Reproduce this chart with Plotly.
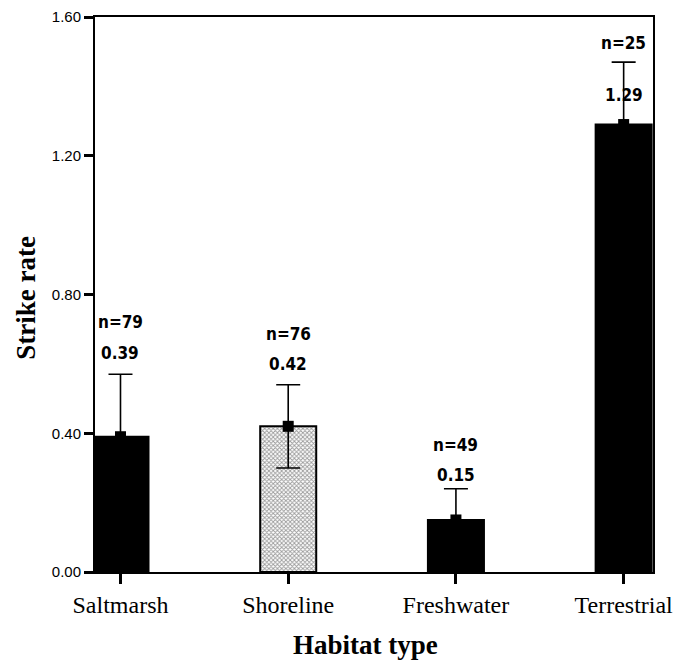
import plotly.graph_objects as go

# ---- data ----
categories = ["Saltmarsh", "Shoreline", "Freshwater", "Terrestrial"]
strike_rate = [0.39, 0.42, 0.15, 1.29]
error = [0.18, 0.12, 0.09, 0.18]
n_obs = [79, 76, 49, 25]
y_ticks = [0.0, 0.4, 0.8, 1.2, 1.6]

# ---- styling (pixel offsets for labels) ----
n_shift = [52, 51, 44, 19]
val_shift = [21, 21, 14, -33]
bar_colors = ["black", "#9a9a9a", "black", "black"]

xpos = list(range(len(categories)))

fig = go.Figure()
fig.add_trace(go.Bar(
    x=xpos, y=strike_rate, width=0.334,
    marker=dict(
        color=bar_colors,
        line=dict(color="black", width=2),
        pattern=dict(shape=["", "x", "", ""], fgcolor="#000000", bgcolor="#b8b8b8",
                     size=3, solidity=0.5, fillmode="replace"),
    ),
    showlegend=False,
))
fig.add_trace(go.Scatter(
    x=xpos, y=strike_rate, mode="markers",
    marker=dict(symbol="square", size=11, color="black"),
    error_y=dict(type="data", array=error, visible=True, color="black",
                 thickness=1.6, width=12),
    showlegend=False, cliponaxis=False,
))

ann_font = dict(family="DejaVu Sans Condensed, DejaVu Sans", size=17, color="black")
for i, (v, e, n) in enumerate(zip(strike_rate, error, n_obs)):
    fig.add_annotation(x=i, y=v + e, text=f"<b>n={n}</b>", showarrow=False,
                       yanchor="middle", yshift=n_shift[i], font=ann_font)
    fig.add_annotation(x=i, y=v + e, text=f"<b>{v:.2f}</b>", showarrow=False,
                       yanchor="middle", yshift=val_shift[i], font=ann_font)

title_font = dict(family="Liberation Serif, Times New Roman, serif", size=27, color="black")
fig.add_annotation(xref="paper", yref="paper", x=-0.124, y=0.494, text="<b>Strike rate</b>",
                   textangle=-90, showarrow=False, xanchor="center", yanchor="middle", font=title_font)
fig.add_annotation(xref="paper", yref="paper", x=0.484, y=-0.1315, text="<b>Habitat type</b>",
                   showarrow=False, xanchor="center", yanchor="middle", font=title_font)

fig.update_layout(
    width=676, height=664,
    margin=dict(l=95, r=23, t=17, b=92),
    paper_bgcolor="white", plot_bgcolor="white",
    xaxis=dict(
        tickmode="array", tickvals=xpos, ticktext=categories,
        range=[-0.152, 3.175], automargin=False,
        showline=True, linecolor="black", linewidth=2, mirror=True,
        ticks="outside", ticklen=10, tickwidth=3, tickcolor="black",
        showgrid=False, zeroline=False,
        tickfont=dict(family="Liberation Serif, Times New Roman, serif", size=24, color="black"),
    ),
    yaxis=dict(
        range=[0, 1.6], tickmode="array", tickvals=y_ticks, tickformat=".2f", automargin=False,
        showline=True, linecolor="black", linewidth=2, mirror=True,
        ticks="outside", ticklen=9, tickwidth=3, tickcolor="black",
        showgrid=False, zeroline=False,
        tickfont=dict(family="Liberation Sans, Arial, sans-serif", size=15, color="black"),
    ),
)

fig.write_html("out.html", config={"displayModeBar": False},
               post_script="document.body.style.margin='0';document.body.style.overflow='hidden';")
